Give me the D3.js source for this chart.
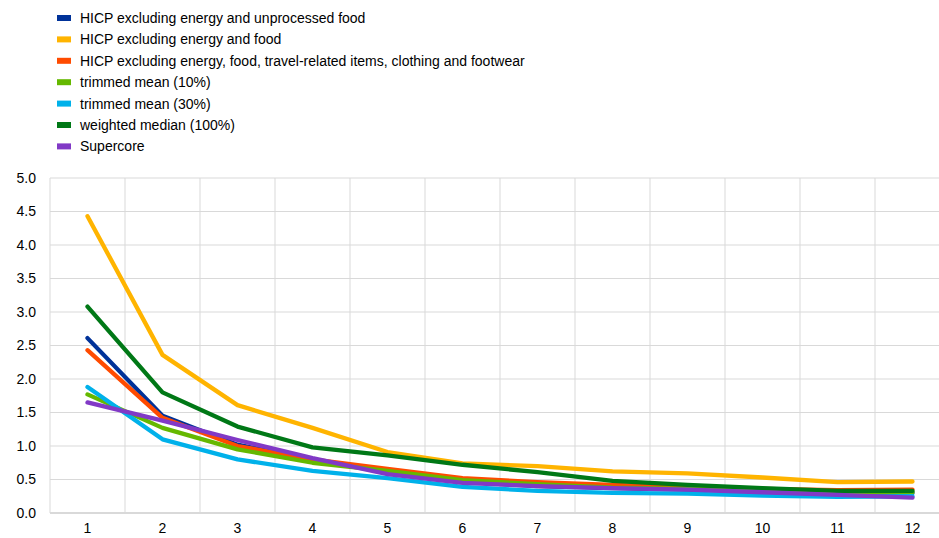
<!DOCTYPE html>
<html>
<head>
<meta charset="utf-8">
<script src="https://cdn.jsdelivr.net/npm/d3@7"></script>
<style>
  html, body { margin: 0; padding: 0; background: #fff; }
  svg { display: block; font-family: "Liberation Sans", Arial, sans-serif; }
</style>
</head>
<body>
<svg id="chart" width="939" height="538"></svg>
<script>
const categories = [1, 2, 3, 4, 5, 6, 7, 8, 9, 10, 11, 12];
const yTicks = [0, 0.5, 1, 1.5, 2, 2.5, 3, 3.5, 4, 4.5, 5];

const seriesNames = [
  "HICP excluding energy and unprocessed food",
  "HICP excluding energy and food",
  "HICP excluding energy, food, travel-related items, clothing and footwear",
  "trimmed mean (10%)",
  "trimmed mean (30%)",
  "weighted median (100%)",
  "Supercore"
];
const seriesColors = ["#003299", "#FFB400", "#FF4B00", "#65B800", "#00B1EA", "#007816", "#8139C6"];

const hicpExEnergyUnprocFood = [2.61, 1.45, 1.02, 0.79, 0.62, 0.47, 0.40, 0.37, 0.35, 0.32, 0.30, 0.30];
const hicpExEnergyFood       = [4.43, 2.36, 1.61, 1.27, 0.91, 0.74, 0.70, 0.62, 0.59, 0.53, 0.46, 0.47];
const hicpExx                = [2.43, 1.42, 1.00, 0.80, 0.66, 0.52, 0.46, 0.42, 0.39, 0.36, 0.34, 0.35];
const trimmedMean10          = [1.77, 1.27, 0.95, 0.75, 0.63, 0.49, 0.43, 0.38, 0.36, 0.33, 0.31, 0.31];
const trimmedMean30          = [1.88, 1.10, 0.80, 0.63, 0.52, 0.39, 0.33, 0.30, 0.29, 0.26, 0.24, 0.25];
const weightedMedian         = [3.08, 1.80, 1.29, 0.98, 0.86, 0.72, 0.61, 0.48, 0.42, 0.37, 0.33, 0.33];
const supercore              = [1.65, 1.38, 1.09, 0.82, 0.58, 0.45, 0.40, 0.37, 0.35, 0.31, 0.27, 0.23];

const seriesValues = [hicpExEnergyUnprocFood, hicpExEnergyFood, hicpExx, trimmedMean10, trimmedMean30, weightedMedian, supercore];

const svg = d3.select("#chart");
const mLeft = 50, mRight = 950, mTop = 178, mBottom = 513;

const x = d3.scaleBand().domain(categories).range([mLeft, mRight]);
const y = d3.scaleLinear().domain([0, 5]).range([mBottom, mTop]);

const grid = svg.append("g");
grid.selectAll("line.h").data(yTicks.filter(d => d > 0)).join("line")
  .attr("class", "h")
  .attr("x1", mLeft).attr("x2", mRight)
  .attr("y1", d => y(d)).attr("y2", d => y(d))
  .attr("stroke", "#d9d9d9").attr("stroke-width", 1);
grid.selectAll("line.v").data(categories).join("line")
  .attr("class", "v")
  .attr("x1", d => x(d)).attr("x2", d => x(d))
  .attr("y1", mTop).attr("y2", mBottom)
  .attr("stroke", "#d9d9d9").attr("stroke-width", 1);
grid.append("line").attr("x1", mLeft).attr("x2", mRight)
  .attr("y1", mBottom).attr("y2", mBottom)
  .attr("stroke", "#d9d9d9").attr("stroke-width", 2);

const yAxis = d3.axisLeft(y).tickValues(yTicks).tickFormat(d3.format(".1f")).tickSize(0).tickPadding(14);
const ya = svg.append("g").attr("transform", `translate(${mLeft},0)`).call(yAxis);
ya.select(".domain").remove();
ya.selectAll("text").attr("font-size", 14).attr("fill", "#000").attr("font-family", "Liberation Sans, Arial, sans-serif");

const xAxis = d3.axisBottom(x).tickSize(0).tickPadding(10);
const xa = svg.append("g").attr("transform", `translate(0,${mBottom})`).call(xAxis);
xa.select(".domain").remove();
xa.selectAll("text").attr("font-size", 14).attr("fill", "#000").attr("font-family", "Liberation Sans, Arial, sans-serif");

const line = d3.line()
  .x((d, i) => x(categories[i]) + x.bandwidth() / 2)
  .y(d => y(d));
svg.append("g").selectAll("path").data(seriesValues).join("path")
  .attr("d", d => line(d))
  .attr("fill", "none")
  .attr("stroke", (d, i) => seriesColors[i])
  .attr("stroke-width", 4.3)
  .attr("stroke-linejoin", "round")
  .attr("stroke-linecap", "round");

const lg = svg.append("g");
const rows = lg.selectAll("g").data(seriesNames).join("g")
  .attr("transform", (d, i) => `translate(57, ${18 + i * 21.4})`);
rows.append("rect").attr("x", 0).attr("y", -3).attr("width", 14).attr("height", 6)
  .attr("fill", (d, i) => seriesColors[i]);
rows.append("text").attr("x", 23).attr("y", 0).attr("dy", "0.35em")
  .attr("font-size", 14).attr("fill", "#000").text(d => d);
</script>
</body>
</html>
